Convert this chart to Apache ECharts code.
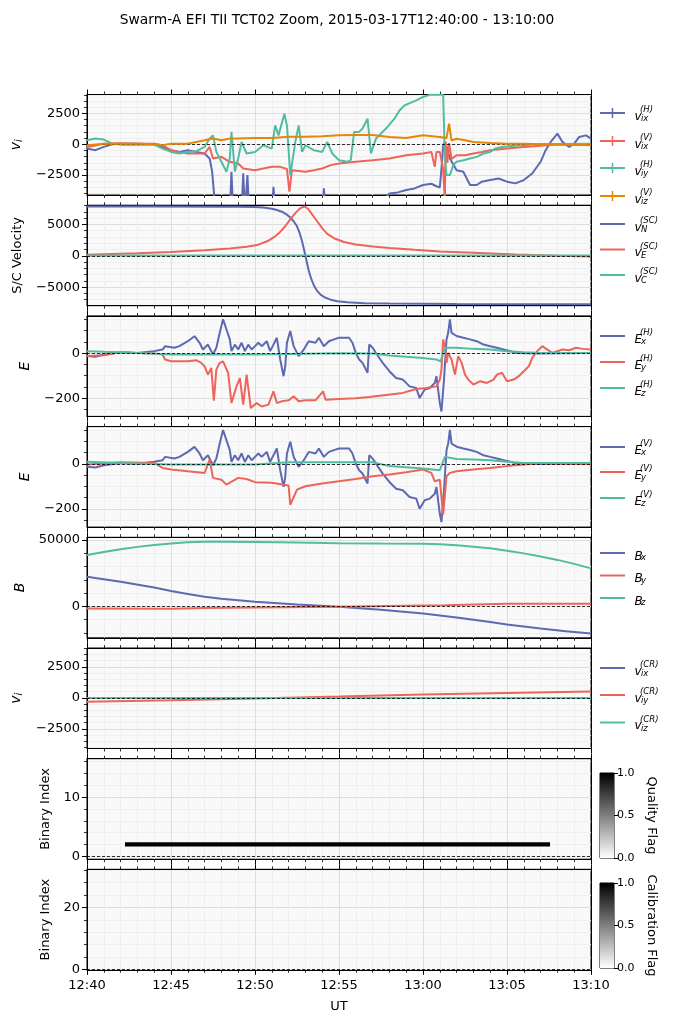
<!DOCTYPE html>
<html>
<head>
<meta charset="utf-8">
<script src="https://cdn.jsdelivr.net/npm/echarts@6/dist/echarts.min.js"></script>
<style>
  html, body { margin: 0; padding: 0; background: #fff; }
  #chart { width: 674px; height: 1024px; }
</style>
</head>
<body>
<div id="chart"></div>
<script>
// x values are minutes after 12:40 UT

// ion drift velocity, H and V sensors
const vixH = [[0,-350],[0.5,-480],[1,-215],[1.5,0],[2,50],[3,50],[4,0],[4.5,-215],[5,-480],[5.5,-620],[6,-480],[6.5,-620],[7,-750],[7.3,-1150],[7.45,-2230],[7.55,-3840],[7.65,-5500],[8.5,-5500],[8.6,-2230],[8.7,-5500],[9.2,-5500],[9.3,-2360],[9.4,-5500],[9.55,-2500],[9.65,-5500],[11,-5500],[11.1,-3440],[11.2,-5500],[14,-5500],[14.1,-3575],[14.2,-5500],[17.6,-4600],[18,-3980],[18.5,-3900],[19,-3700],[19.5,-3575],[20,-3300],[20.5,-3200],[20.8,-3400],[21,-3500],[21.1,-2000],[21.2,-100],[21.3,200],[21.45,-400],[21.6,-1150],[22,-2100],[22.4,-2230],[22.8,-3300],[23.2,-3300],[23.5,-3030],[24,-2900],[24.5,-2770],[25,-3030],[25.5,-3170],[26,-2900],[26.5,-2370],[27,-1420],[27.3,-480],[27.6,190],[28,860],[28.3,190],[28.7,-215],[29,50],[29.3,590],[29.7,720],[30,460]];
const vixV = [[0,-215],[0.5,-100],[1,50],[2,80],[3,50],[4,50],[4.5,-80],[5,-480],[5.5,-620],[6,-750],[6.5,-750],[7,-750],[7.3,-215],[7.5,-1150],[8,-1020],[8.5,-1420],[9,-1560],[9.3,-1960],[10,-2100],[10.5,-1960],[11,-1830],[11.5,-1830],[11.9,-2000],[12.05,-3840],[12.2,-2100],[13,-2230],[13.5,-2100],[14,-1960],[14.5,-1690],[15,-1560],[16,-1420],[17,-1290],[18,-1150],[19,-890],[20,-750],[20.5,-620],[20.7,-1830],[20.8,-620],[21,-620],[21.2,-2000],[21.3,-4500],[21.35,200],[21.45,-1500],[21.55,100],[21.7,-1200],[22,-890],[22.5,-890],[23,-750],[23.5,-620],[24,-480],[25,-350],[26,-215],[27,-130],[28,-30],[29,-30],[30,0]];
const viyH = [[0,320],[0.5,460],[1,380],[1.5,50],[2,-30],[3,-30],[4,-30],[4.5,-350],[5,-620],[5.5,-750],[6,-620],[6.5,-560],[7,-215],[7.3,460],[7.5,720],[7.7,-620],[8,-1420],[8.3,-2230],[8.5,-1150],[8.6,1000],[8.8,-2230],[9,-1150],[9.2,190],[9.5,-750],[10,-620],[10.5,-80],[11,-350],[11.2,1530],[11.4,720],[11.75,2470],[11.9,1530],[12.1,-2500],[12.4,190],[12.6,1530],[12.8,-620],[13,-80],[13.5,-480],[14,-620],[14.3,190],[14.6,-750],[15,-1290],[15.5,-1420],[15.7,-1290],[15.9,1000],[16.2,1000],[16.4,1270],[16.7,2070],[16.9,-750],[17.2,460],[17.8,1270],[18.3,2070],[18.6,2740],[18.9,3150],[19.6,3550],[20,3830],[20.4,4000],[21.2,4000],[21.3,-1000],[21.4,-2500],[21.6,-2500],[21.8,-1690],[22,-1420],[22.4,-1290],[22.8,-1150],[23.2,-1020],[23.6,-750],[24,-620],[24.3,-350],[24.7,-215],[25.1,-160],[25.9,-80],[26.7,0],[30,50]];
const vizV = [[0,-80],[1,50],[2,50],[3,50],[4,0],[4.5,-80],[5,50],[6,50],[6.5,190],[7,320],[7.5,460],[8,320],[8.5,460],[9,460],[10,500],[11,500],[12,600],[13,600],[14,650],[15,726],[16,750],[17,750],[18,590],[19,510],[20,726],[21,590],[21.4,500],[21.55,1670],[21.7,300],[22,450],[22.5,320],[23,190],[24,100],[25,50],[26,50],[27,0],[28,0],[29,-30],[30,-80]];

// spacecraft velocity
const vN = [[0,7850],[4,7850],[8,7830],[9,7810],[10,7770],[10.5,7700],[11,7500],[11.3,7300],[11.6,7020],[11.9,6550],[12.1,6100],[12.3,5500],[12.5,4700],[12.65,3700],[12.8,2300],[12.9,1200],[13,0],[13.1,-1200],[13.2,-2400],[13.35,-3700],[13.5,-4700],[13.7,-5600],[13.9,-6200],[14.2,-6700],[14.5,-7000],[14.9,-7250],[15.5,-7420],[16.5,-7550],[18,-7620],[22,-7690],[30,-7740]];
const vE = [[0,160],[3,400],[5,590],[7,870],[8.5,1150],[9.5,1450],[10.2,1770],[10.8,2400],[11.2,3100],[11.5,3800],[11.8,4700],[12.1,5800],[12.4,6800],[12.7,7600],[12.95,7850],[13.15,7500],[13.4,6600],[13.7,5500],[14,4400],[14.3,3500],[14.7,2800],[15.3,2200],[16,1800],[17,1480],[18,1250],[19.5,950],[21,680],[23,470],[25.5,200],[28,20],[30,-100]];
const vC = [[0,30],[30,30]];

// electric field, H sensor
const exH = [[0,-13],[0.5,-16],[1,-6],[2,4],[3,1],[4,9],[4.5,16],[4.65,31],[5.2,24],[5.5,31],[6,53],[6.4,75],[6.7,46],[6.9,16],[7.2,38],[7.5,-6],[7.7,24],[7.9,90],[8.1,150],[8.3,105],[8.5,61],[8.6,9],[8.8,38],[9,16],[9.2,46],[9.4,9],[9.6,38],[9.8,16],[10,31],[10.2,46],[10.4,31],[10.7,53],[10.9,9],[11.1,38],[11.3,68],[11.5,-28],[11.7,-102],[11.8,-58],[11.9,46],[12.1,98],[12.3,31],[12.6,-13],[12.9,16],[13.2,53],[13.6,46],[13.8,68],[14.1,31],[14.4,53],[14.7,61],[15,68],[15.6,68],[15.8,46],[16,1],[16.2,-28],[16.4,-43],[16.7,-87],[16.8,38],[17,24],[17.2,1],[17.6,-43],[18,-80],[18.4,-110],[18.8,-117],[19.2,-147],[19.6,-154],[19.8,-199],[20.1,-161],[20.4,-154],[20.7,-132],[20.8,-102],[21,-221],[21.1,-258],[21.25,-117],[21.4,61],[21.5,90],[21.6,150],[21.7,90],[22,76],[22.4,68],[22.8,61],[23.2,53],[23.6,38],[24,31],[24.4,24],[24.8,16],[25.2,9],[25.6,1],[26.8,-1],[30,1]];
const eyH = [[0,-13],[1,-9],[2,4],[3,1],[4,-1],[4.5,-6],[4.65,-28],[5,-36],[6,-36],[6.5,-31],[6.8,-43],[7,-58],[7.2,-95],[7.4,-65],[7.55,-210],[7.7,-72],[7.9,-43],[8.1,-36],[8.4,-87],[8.6,-221],[8.9,-147],[9.1,-110],[9.3,-228],[9.5,-95],[9.75,-243],[10.1,-221],[10.4,-236],[10.8,-228],[11.1,-169],[11.3,-221],[11.6,-213],[12,-209],[12.3,-191],[12.6,-213],[13,-209],[13.6,-209],[14.05,-169],[14.2,-206],[15,-203],[16,-200],[16.8,-194],[17.8,-185],[18.8,-176],[19.6,-159],[20.2,-154],[20.8,-147],[21,-117],[21.1,-73],[21.2,61],[21.3,31],[21.4,-43],[21.5,1],[21.7,-28],[21.9,-95],[22.1,-13],[22.3,-43],[22.5,-95],[22.7,-117],[23,-139],[23.4,-124],[23.8,-132],[24.2,-117],[24.4,-95],[24.7,-87],[25,-124],[25.4,-117],[25.7,-102],[26,-80],[26.3,-58],[26.5,-21],[26.8,9],[27.1,31],[27.4,16],[27.7,1],[28.3,16],[28.7,13],[29.1,24],[29.5,19],[30,16]];
const ezH = [[0,9],[1,6],[3,1],[5,-6],[10,-6],[15,0],[17,-1],[18,-10],[19,-16],[20,-21],[20.8,-28],[21.05,-36],[21.3,24],[22,24],[23,19],[24,16],[25,9],[26,4],[27,1],[30,1]];

// electric field, V sensor (Ex reads the same as the H sensor)
const exV = exH;
const eyV = [[0,-3],[2,7],[4,4],[4.5,-18],[5,-25],[6,-33],[7,-40],[7.3,19],[7.5,-62],[8,-70],[8.3,-92],[9,-62],[9.5,-67],[10,-81],[11,-84],[12,-96],[12.1,-181],[12.5,-114],[13,-99],[14,-87],[15,-77],[16,-67],[17,-55],[18,-47],[19,-37],[20,-25],[20.5,-40],[20.7,-77],[21,-70],[21.2,-225],[21.4,-55],[21.6,-40],[22,-33],[23,-25],[24,-18],[25,-10],[26,-3],[27,4],[28,1],[30,0]];
const ezV = [[0,9],[2,4],[5,-3],[10,-3],[12,7],[17,7],[18,-10],[19,-15],[20,-21],[21,-28],[21.1,-30],[21.3,31],[22,22],[23,19],[24,16],[25,9],[26,4],[30,4]];

// magnetic field
const bx = [[0,22400],[2,18600],[4,14200],[5,11600],[6,9400],[7,7200],[8,5800],[10,3500],[12.5,1500],[15,-250],[17.5,-2500],[20,-5300],[22,-8300],[24,-11800],[25,-13600],[27,-16600],[28.5,-18700],[30,-20300]];
const by = [[0,-1500],[5,-1700],[7,-1100],[10,-750],[15,-200],[20,750],[21.3,900],[21.4,2260],[25,2000],[30,2000]];
const bz = [[0,38700],[1,41000],[2,43000],[3,44800],[4,46200],[5,47300],[6,48200],[7,48600],[8,48700],[10,48400],[12.5,48000],[15,47500],[17.5,47300],[20,47200],[21,46800],[22,46000],[23,44900],[24,43700],[25,41900],[26,39900],[27,37600],[28,35000],[29,32000],[30,28600]];

// corotation velocity
const vixCR = [[0,0],[30,0]];
const viyCR = [[0,-320],[5,-190],[10,-50],[15,107],[20,270],[25,400],[30,510]];
const vizCR = [[0,0],[30,0]];

// flags: [start, end, bit index]
const qualityFlag = [[2.26, 27.56, 2]];
const calibrationFlag = [];

// axis ticks
const viMajor = [-2500, 0, 2500];
const viMinor = [-4000, -3500, -3000, -2000, -1500, -1000, -500, 500, 1000, 1500, 2000, 3000, 3500, 4000];
const scMajor = [-5000, 0, 5000];
const scMinor = [-7000, -6000, -4000, -3000, -2000, -1000, 1000, 2000, 3000, 4000, 6000, 7000, 8000];
const eMajor = [-200, 0];
const eMinor = [-250, -150, -100, -50, 50, 100, 150];
const bMajor = [0, 50000];
const bMinor = [-20000, -10000, 10000, 20000, 30000, 40000];
const qMajor = [0, 10];
const qMinor = [2, 4, 6, 8, 12, 14, 16];
const cMajor = [0, 20];
const cMinor = [4, 8, 12, 16, 24, 28, 32];
const cbarTicks = [0, 0.5, 1];

const BLUE = '#5D69B1';
const RED = '#ED645A';
const GREEN = '#52BCA3';
const ORANGE = '#E58606';
const FONT = 'DejaVu Sans';

const left = 87;
const width = 504;
const height = 100.5;
const tops = [94.5, 205.2, 315.9, 426.6, 537.3, 648, 758.7, 869.3];

const panels = [
  { yName: '{i|v}{s|i}', gap: 63, min: -4110, max: 4030, major: viMajor, minor: viMinor,
    lines: [[vixH, BLUE], [vixV, RED], [viyH, GREEN], [vizV, ORANGE]], cross: true,
    legendY: [113, 141, 168, 196],
    legend: [['v', 'ix', '(H)'], ['v', 'ix', '(V)'], ['v', 'iy', '(H)'], ['v', 'iz', '(V)']] },
  { yName: 'S/C Velocity', gap: 63, min: -7960, max: 8060, major: scMajor, minor: scMinor,
    lines: [[vN, BLUE], [vE, RED], [vC, GREEN]], clean: true,
    legendY: [224, 249.5, 275],
    legend: [['v', 'N', '(SC)'], ['v', 'E', '(SC)'], ['v', 'C', '(SC)']] },
  { yName: '{i|E}', gap: 55, min: -280, max: 165, major: eMajor, minor: eMinor,
    lines: [[exH, BLUE], [eyH, RED], [ezH, GREEN]],
    legendY: [336, 362, 388],
    legend: [['E', 'x', '(H)'], ['E', 'y', '(H)'], ['E', 'z', '(H)']] },
  { yName: '{i|E}', gap: 55, min: -280, max: 165, major: eMajor, minor: eMinor,
    lines: [[exV, BLUE], [eyV, RED], [ezV, GREEN]],
    legendY: [447, 472, 498],
    legend: [['E', 'x', '(V)'], ['E', 'y', '(V)'], ['E', 'z', '(V)']] },
  { yName: '{i|B}', gap: 60, min: -23600, max: 52000, major: bMajor, minor: bMinor,
    lines: [[bx, BLUE], [by, RED], [bz, GREEN]], clean: true,
    legendY: [553, 575.5, 598],
    legend: [['B', 'x', ''], ['B', 'y', ''], ['B', 'z', '']] },
  { yName: '{i|v}{s|i}', gap: 63, min: -4080, max: 4020, major: viMajor, minor: viMinor,
    lines: [[vixCR, BLUE], [viyCR, RED], [vizCR, GREEN]], clean: true,
    legendY: [668, 695, 722.5],
    legend: [['v', 'ix', '(CR)'], ['v', 'iy', '(CR)'], ['v', 'iz', '(CR)']] },
  { yName: 'Binary Index', gap: 33, min: -0.5, max: 16.5, major: qMajor, minor: qMinor,
    flag: qualityFlag, cbar: 'Quality Flag', cbarTop: 773 },
  { yName: 'Binary Index', gap: 33, min: -0.15, max: 32.3, major: cMajor, minor: cMinor,
    flag: calibrationFlag, cbar: 'Calibration Flag', cbarTop: 883 }
];

function fmtTime(v) {
  const m = 12 * 60 + 40 + Math.round(v);
  return Math.floor(m / 60) + ':' + String(m % 60).padStart(2, '0');
}
function fmtNum(v) {
  return String(v).replace('-', '\u2212');
}

const grids = [];
const xAxes = [];
const yAxes = [];
const series = [];
const graphics = [];

const zeroLine = {
  silent: true,
  symbol: ['none', 'none'],
  label: { show: false },
  lineStyle: { color: '#000', type: [3, 2], width: 0.8 },
  emphasis: { disabled: true },
  data: [{ yAxis: 0 }]
};

function scriptText(x, y, text, size, italic) {
  return {
    type: 'text', x: x, y: y, z: 100,
    style: {
      text: text, font: (italic ? 'italic ' : '') + size + 'px "DejaVu Sans"', fill: '#000',
      textAlign: 'left', textVerticalAlign: 'middle', align: 'left', verticalAlign: 'middle'
    }
  };
}

panels.forEach((p, i) => {
  const last = i === panels.length - 1;
  grids.push({
    left: left, top: tops[i], width: width, height: height,
    show: true, backgroundColor: '#f9f9f9', borderColor: '#000', borderWidth: 1
  });
  const xBase = {
    type: 'value', gridIndex: i, min: 0, max: 30, interval: 5,
    axisLine: { show: true, onZero: false, lineStyle: { color: '#000', width: 1 } },
    axisTick: { show: true, length: 5, lineStyle: { color: '#000', width: 1 } },
    minorTick: { show: true, splitNumber: 5, length: 3, lineStyle: { color: '#000', width: 0.8 } }
  };
  xAxes.push(Object.assign({}, xBase, {
    position: 'bottom',
    splitLine: { show: true, lineStyle: { color: '#dddddd', width: 1 } },
    minorSplitLine: { show: true, lineStyle: { color: '#efefef', width: 1 } },
    axisLabel: { show: last, formatter: fmtTime, color: '#000', fontSize: 13, fontFamily: FONT, margin: 9 },
    name: last ? 'UT' : '', nameLocation: 'middle', nameGap: 30,
    nameTextStyle: { color: '#000', fontSize: 13, fontFamily: FONT }
  }));
  xAxes.push(Object.assign({}, xBase, {
    position: 'top', splitLine: { show: false }, minorSplitLine: { show: false },
    axisLabel: { show: false }
  }));
  // major ticks, labels and grid lines
  yAxes.push({
    type: 'value', gridIndex: i, min: p.min, max: p.max, position: 'left',
    axisLine: { show: true, onZero: false, lineStyle: { color: '#000', width: 1 } },
    axisTick: { show: true, length: 5, customValues: p.major, lineStyle: { color: '#000' } },
    axisLabel: { customValues: p.major, formatter: fmtNum, color: '#000', fontSize: 13, fontFamily: FONT, margin: 7 },
    splitLine: { show: true, lineStyle: { color: '#dddddd', width: 1 } },
    name: p.yName, nameLocation: 'middle', nameGap: p.gap, nameRotate: 90,
    nameTextStyle: {
      color: '#000', fontSize: 13, fontFamily: FONT,
      rich: {
        i: { fontStyle: 'italic', fontSize: 14, fontFamily: FONT, color: '#000' },
        s: { fontStyle: 'italic', fontSize: 10, fontFamily: FONT, color: '#000', padding: [6, 0, 0, 0] }
      }
    }
  });
  // minor ticks and faint grid lines
  yAxes.push({
    type: 'value', gridIndex: i, min: p.min, max: p.max, position: 'left',
    axisLine: { show: false, onZero: false },
    axisTick: { show: true, length: 3, customValues: p.minor, lineStyle: { color: '#000', width: 0.8 } },
    axisLabel: { show: false, customValues: p.minor },
    splitLine: { show: true, lineStyle: { color: '#efefef', width: 1 } }
  });
  // right spine
  yAxes.push({
    type: 'value', gridIndex: i, min: p.min, max: p.max, position: 'right',
    axisLine: { show: true, onZero: false, lineStyle: { color: '#000', width: 1 } },
    axisTick: { show: false }, axisLabel: { show: false }, splitLine: { show: false }
  });

  if (p.lines) {
    p.lines.forEach((ln, k) => {
      const s = {
        type: 'line', xAxisIndex: 2 * i, yAxisIndex: 3 * i, data: ln[0],
        showSymbol: false, symbol: 'none', clip: true,
        lineStyle: { color: ln[1], width: 2 },
        itemStyle: { color: ln[1] },
        emphasis: { disabled: true }, silent: true, z: 2 + k
      };
      if (k === 0) s.markLine = zeroLine;
      series.push(s);
    });
    // legend to the right of the panel
    p.legend.forEach((e, k) => {
      const c = p.legendY[k];
      const col = p.lines[k][1];
      graphics.push({ type: 'line', shape: { x1: 600, y1: c, x2: 625, y2: c }, style: { stroke: col, lineWidth: 2 } });
      if (p.cross) {
        graphics.push({ type: 'line', shape: { x1: 612.5, y1: c - 5, x2: 612.5, y2: c + 5 }, style: { stroke: col, lineWidth: 1.5 } });
      }
      graphics.push(scriptText(634.5, c + 3.5, e[0], 12, true));
      graphics.push(scriptText(641, c + (e[2] ? 6 : 5), e[1], 8.5, true));
      if (e[2]) graphics.push(scriptText(640, c - 3, e[2], 8.5, true));
    });
  } else {
    series.push({
      type: 'custom', xAxisIndex: 2 * i, yAxisIndex: 3 * i, data: p.flag,
      encode: { x: [0, 1], y: 2 }, clip: true, silent: true, z: 2,
      renderItem: (params, api) => {
        const a = api.coord([api.value(0), api.value(2) + 0.37]);
        const b = api.coord([api.value(1), api.value(2) - 0.37]);
        return { type: 'rect', shape: { x: a[0], y: a[1], width: b[0] - a[0], height: b[1] - a[1] }, style: { fill: '#000' } };
      },
      markLine: zeroLine
    });
  }
});

// colour bars for the two flag panels
panels.forEach((p) => {
  if (!p.cbar) return;
  const gi = grids.length;
  grids.push({ left: 600, top: p.cbarTop, width: 14, height: 85, show: true, borderColor: '#000', borderWidth: 1, backgroundColor: '#fff' });
  xAxes.push({ type: 'category', gridIndex: gi, data: ['f'], show: false });
  yAxes.push({
    type: 'value', gridIndex: gi, min: 0, max: 1, position: 'right',
    axisLine: { show: false },
    axisTick: { show: true, length: 4, customValues: cbarTicks, lineStyle: { color: '#000' } },
    axisLabel: { customValues: cbarTicks, formatter: v => v.toFixed(1), color: '#000', fontSize: 11, fontFamily: FONT, margin: 3 },
    splitLine: { show: false },
    name: p.cbar, nameLocation: 'middle', nameRotate: -90, nameGap: 31,
    nameTextStyle: { color: '#000', fontSize: 13, fontFamily: FONT }
  });
  series.push({
    type: 'bar', xAxisIndex: xAxes.length - 1, yAxisIndex: yAxes.length - 1,
    data: [1], barWidth: '100%', silent: true,
    itemStyle: {
      color: new echarts.graphic.LinearGradient(0, 0, 0, 1, [
        { offset: 0, color: '#000' },
        { offset: 1, color: '#fff' }
      ])
    }
  });
});

const chart = echarts.init(document.getElementById('chart'), null, { renderer: 'canvas' });
chart.setOption({
  animation: false,
  backgroundColor: '#fff',
  textStyle: { fontFamily: FONT },
  title: {
    text: 'Swarm-A EFI TII TCT02 Zoom, 2015-03-17T12:40:00 - 13:10:00',
    left: 'center', top: 8,
    textStyle: { color: '#000', fontSize: 13.8, fontWeight: 'normal', fontFamily: FONT }
  },
  grid: grids,
  xAxis: xAxes,
  yAxis: yAxes,
  series: series,
  graphic: { elements: graphics }
});
</script>
</body>
</html>
